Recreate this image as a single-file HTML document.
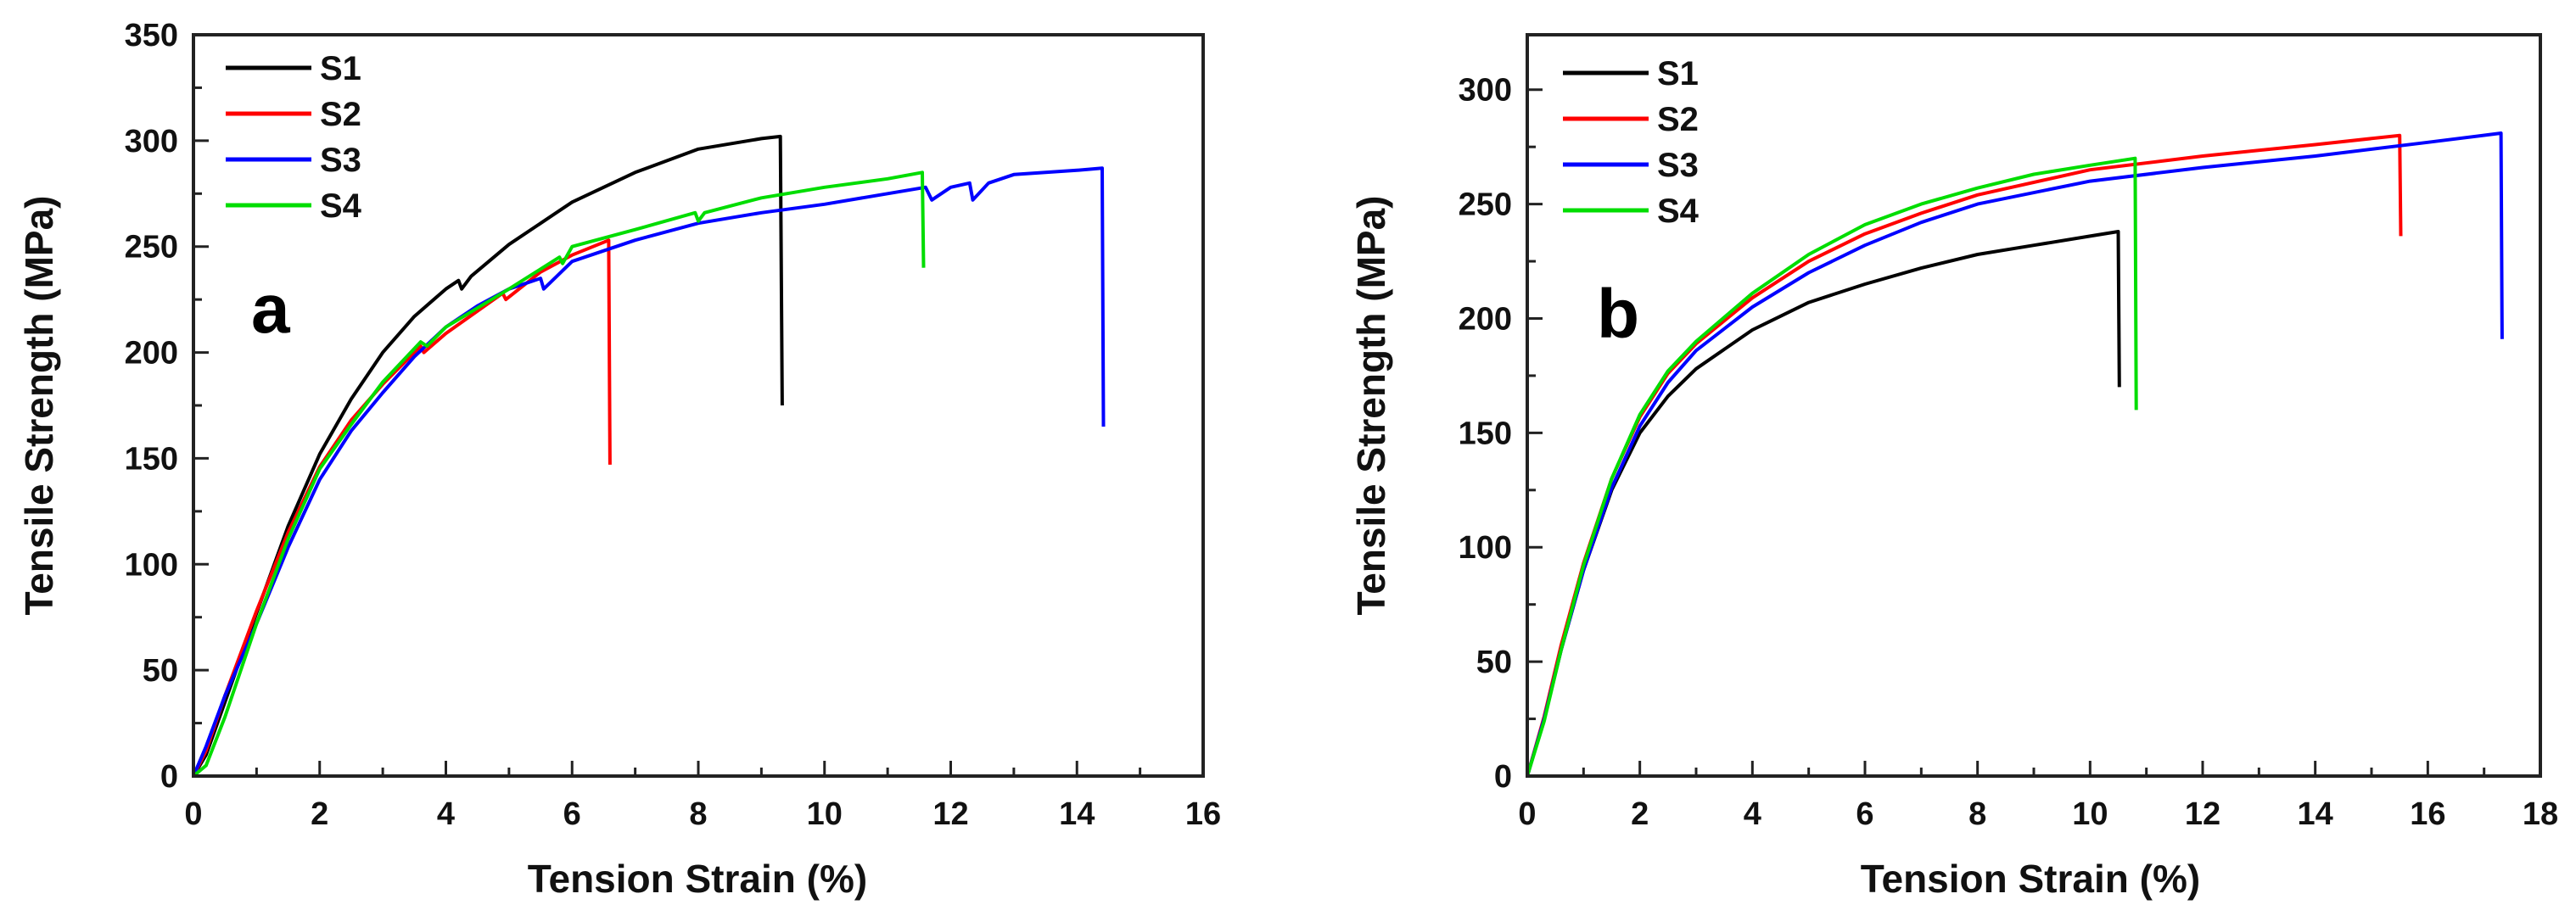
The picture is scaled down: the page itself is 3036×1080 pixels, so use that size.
<!DOCTYPE html>
<html><head><meta charset="utf-8"><style>
html,body{margin:0;padding:0;background:#fff;}
svg{display:block;font-family:"Liberation Sans",Arial,sans-serif;font-weight:bold;}
</style></head><body>
<svg id="fig" width="3036" height="1080" viewBox="0 0 3036 1080" xmlns="http://www.w3.org/2000/svg"></svg>
<script>
// ---- Panel a data ----
const aS1x=[0,0.2,0.5,1,1.5,2,2.5,3,3.5,4,4.2,4.25,4.4,5,6,7,8,9,9.3,9.33];
const aS1y=[0,10,35,77,118,152,178,200,217,230,234,230,236,251,271,285,296,301,302,175];
const aS2x=[0,0.2,0.5,1,1.5,2,2.5,3,3.6,3.65,4,4.9,4.95,5.5,6,6.5,6.58,6.6];
const aS2y=[0,12,38,78,115,146,168,185,203,200,209,228,225,238,246,252,253,147];
const aS3x=[0,0.2,0.5,1,1.5,2,2.5,3,3.5,4,4.5,5,5.5,5.55,6,7,8,9,10,11,11.6,11.7,12,12.3,12.35,12.6,13,14,14.4,14.42];
const aS3y=[0,14,38,72,108,140,163,181,198,212,222,230,235,230,243,253,261,266,270,275,278,272,278,280,272,280,284,286,287,165];
const aS4x=[0,0.2,0.5,1,1.5,2,2.5,3,3.6,3.7,4,5,5.8,5.85,6,7,7.95,8,8.1,9,10,11,11.55,11.57];
const aS4y=[0,5,28,72,112,145,166,186,205,203,212,230,245,242,250,258,266,262,266,273,278,282,285,240];
// ---- Panel b data ----
const bS1x=[0,0.3,0.6,1,1.5,2,2.5,3,4,5,6,7,8,9,10,10.5,10.52];
const bS1y=[0,25,55,90,125,150,166,178,195,207,215,222,228,232,236,238,170];
const bS2x=[0,0.3,0.6,1,1.5,2,2.5,3,4,5,6,7,8,10,12,14,15.5,15.52];
const bS2y=[0,26,57,93,130,157,176,189,209,225,237,246,254,265,271,276,280,236];
const bS3x=[0,0.3,0.6,1,1.5,2,2.5,3,4,5,6,7,8,10,12,14,16,17.3,17.32];
const bS3y=[0,25,55,90,126,153,172,186,205,220,232,242,250,260,266,271,277,281,191];
const bS4x=[0,0.3,0.6,1,1.5,2,2.5,3,4,5,6,7,8,9,10,10.8,10.82];
const bS4y=[0,24,55,92,130,158,177,190,211,228,241,250,257,263,267,270,160];
const colors=["#000","#f00","#00f","#0d0"];
const names=["S1","S2","S3","S4"];
const yTicksA=[0,50,100,150,200,250,300,350];
const yTicksB=[0,50,100,150,200,250,300];
const xTicksA=[0,2,4,6,8,10,12,14,16];
const xTicksB=[0,2,4,6,8,10,12,14,16,18];

const NS="http://www.w3.org/2000/svg";
const svg=document.getElementById('fig');
function el(tag,attrs,parent){const e=document.createElementNS(NS,tag);for(const k in attrs)e.setAttribute(k,attrs[k]);(parent||svg).appendChild(e);return e;}

function panel(cfg){
  const g=el('g',{});
  
  
  const X=v=>cfg.x0+(v-cfg.xmin)/(cfg.xmax-cfg.xmin)*(cfg.x1-cfg.x0);
  const Y=v=>cfg.y0-(v-cfg.ymin)/(cfg.ymax-cfg.ymin)*(cfg.y0-cfg.y1);
  cfg.series.forEach((s,i)=>{
    const pts=s[0].map((x,j)=>X(x).toFixed(1)+','+Y(s[1][j]).toFixed(1)).join(' ');
    const p=el('polyline',{points:pts,fill:'none',stroke:colors[i],'stroke-width':4,'stroke-linejoin':'round'},g);
    
    
  });
  const fr=el('rect',{x:cfg.x0,y:cfg.y1,width:cfg.x1-cfg.x0,height:cfg.y0-cfg.y1,fill:'none',stroke:'#222','stroke-width':4},g);
  
  
  for(let v=cfg.xmin;v<=cfg.xmax;v+=1){
    const major=v%2===0;
    if(v>cfg.xmin&&v<cfg.xmax) el('line',{x1:X(v),x2:X(v),y1:cfg.y0,y2:cfg.y0-(major?18:10),stroke:'#222','stroke-width':3},g);
  }
  cfg.xt.forEach(v=>{
    const t=el('text',{x:X(v),y:972,'font-size':38,'text-anchor':'middle',fill:'#111'},g);
    t.textContent=v;
    
    
  });
  for(let v=cfg.ymin+25;v<cfg.ymax;v+=25){
    const major=v%50===0;
    el('line',{x1:cfg.x0,x2:cfg.x0+(major?18:10),y1:Y(v),y2:Y(v),stroke:'#222','stroke-width':3},g);
  }
  cfg.yt.forEach(v=>{
    const t=el('text',{x:cfg.x0-18,y:Y(v)+13,'font-size':38,'text-anchor':'end',fill:'#111'},g);
    t.textContent=v;
    
    
  });
  const xt=el('text',{x:cfg.xtc,y:1052,'font-size':46,'text-anchor':'middle',fill:'#111'},g);
  xt.textContent='Tension Strain (%)';
  
  
  const yt=el('text',{x:0,y:0,'font-size':46,'text-anchor':'middle',fill:'#111',transform:`translate(${cfg.ytx},478) rotate(-90)`},g);
  yt.textContent='Tensile Strength (MPa)';
  
  
  const lt=el('text',{x:cfg.lx,y:cfg.ly,'font-size':82,fill:'#000'},g);
  lt.textContent=cfg.letter;
  
  
  names.forEach((n,i)=>{
    const yy=cfg.legY+i*54;
    const ln=el('line',{x1:cfg.legX,x2:cfg.legX+101,y1:yy,y2:yy,stroke:colors[i],'stroke-width':5},g);
    
    
    const tx=el('text',{x:cfg.legX+111,y:yy+14,'font-size':40,fill:'#111'},g);
    tx.textContent=n;
    
    
  });
}
panel({id:'panel-a',x0:228,x1:1418,y0:915,y1:41,xmin:0,xmax:16,ymin:0,ymax:350,
  series:[[aS1x,aS1y],[aS2x,aS2y],[aS3x,aS3y],[aS4x,aS4y]],xt:xTicksA,yt:yTicksA,
  xtc:822,ytx:62,letter:'a',lx:296,ly:392,legX:266,legY:80});
panel({id:'panel-b',x0:1800,x1:2994,y0:915,y1:41,xmin:0,xmax:18,ymin:0,ymax:324,
  series:[[bS1x,bS1y],[bS2x,bS2y],[bS3x,bS3y],[bS4x,bS4y]],xt:xTicksB,yt:yTicksB,
  xtc:2393,ytx:1632,letter:'b',lx:1882,ly:398,legX:1842,legY:86});
</script>
</body></html>
